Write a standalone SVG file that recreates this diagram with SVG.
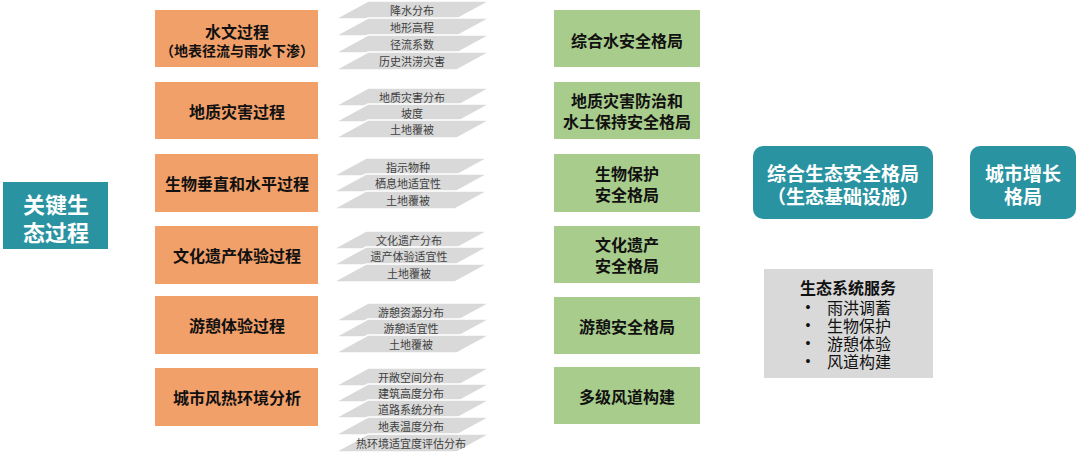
<svg xmlns="http://www.w3.org/2000/svg" xmlns:xlink="http://www.w3.org/1999/xlink" width="1080" height="456" viewBox="0 0 1080 456">
<style>
text{font-family:"Noto Sans CJK SC","Liberation Sans",sans-serif;dominant-baseline:central;text-anchor:middle}
.teal{fill:#2A93A1}
.orange{fill:#F2A06A}
.green{fill:#A8CC8C}
.grey{fill:#D9D9D9}
.layer{fill:#D9D9D9;stroke:#FFFFFF;stroke-width:1.5}
.tw{fill:#FFFFFF;font-weight:700}
.tb{fill:#111111;font-weight:700;font-size:16px}
.tl{fill:#404040;font-size:11px}
.ts{fill:#111111;font-size:16px;text-anchor:start}
.bu{fill:#111111;font-family:"Liberation Sans",sans-serif;font-size:14px;text-anchor:middle}
</style>
<defs>
<path id="lay" d="M33,0 H155 L122,18 H0 Z"/>
</defs>
<rect width="1080" height="456" fill="#FFFFFF"/>

<g id="key-process">
<rect class="teal" x="3" y="182" width="105" height="67"/>
<text class="tw" x="56" y="203" font-size="22">关键生</text>
<text class="tw" x="56" y="231" font-size="22">态过程</text>
</g>

<g id="p1">
<rect class="orange" x="155" y="10" width="163" height="57"/>
<text class="tb" x="237" y="31">水文过程</text>
<text class="tb" x="237" y="50" style="font-size:14px">（地表径流与雨水下渗）</text>
</g>
<g id="p2">
<rect class="orange" x="155" y="82" width="163" height="57"/>
<text class="tb" x="237" y="111">地质灾害过程</text>
</g>
<g id="p3">
<rect class="orange" x="155" y="154" width="163" height="58"/>
<text class="tb" x="237" y="183">生物垂直和水平过程</text>
</g>
<g id="p4">
<rect class="orange" x="155" y="226" width="163" height="58"/>
<text class="tb" x="237" y="255">文化遗产体验过程</text>
</g>
<g id="p5">
<rect class="orange" x="155" y="296" width="163" height="58"/>
<text class="tb" x="237" y="325">游憩体验过程</text>
</g>
<g id="p6">
<rect class="orange" x="155" y="368" width="163" height="58"/>
<text class="tb" x="237" y="397">城市风热环境分析</text>
</g>

<g id="layers1">
<use href="#lay" class="layer" x="335" y="1"/>
<text class="tl" x="412" y="10">降水分布</text>
<use href="#lay" class="layer" x="335" y="18"/>
<text class="tl" x="412" y="27">地形高程</text>
<use href="#lay" class="layer" x="335" y="35"/>
<text class="tl" x="412" y="44">径流系数</text>
<use href="#lay" class="layer" x="335" y="52"/>
<text class="tl" x="412" y="61">历史洪涝灾害</text>
</g>
<g id="layers2">
<use href="#lay" class="layer" x="335" y="88"/>
<text class="tl" x="412" y="97">地质灾害分布</text>
<use href="#lay" class="layer" x="335" y="104"/>
<text class="tl" x="412" y="113">坡度</text>
<use href="#lay" class="layer" x="335" y="120"/>
<text class="tl" x="412" y="129">土地覆被</text>
</g>
<g id="layers3">
<use href="#lay" class="layer" x="333" y="158"/>
<text class="tl" x="408" y="167">指示物种</text>
<use href="#lay" class="layer" x="333" y="174"/>
<text class="tl" x="408" y="183">栖息地适宜性</text>
<use href="#lay" class="layer" x="333" y="191"/>
<text class="tl" x="408" y="200">土地覆被</text>
</g>
<g id="layers4">
<use href="#lay" class="layer" x="333" y="231"/>
<text class="tl" x="409" y="240">文化遗产分布</text>
<use href="#lay" class="layer" x="333" y="247"/>
<text class="tl" x="409" y="256">遗产体验适宜性</text>
<use href="#lay" class="layer" x="333" y="264"/>
<text class="tl" x="409" y="273">土地覆被</text>
</g>
<g id="layers5">
<use href="#lay" class="layer" x="335" y="303"/>
<text class="tl" x="411" y="312">游憩资源分布</text>
<use href="#lay" class="layer" x="335" y="319"/>
<text class="tl" x="411" y="328">游憩适宜性</text>
<use href="#lay" class="layer" x="335" y="335"/>
<text class="tl" x="411" y="344">土地覆被</text>
</g>
<g id="layers6">
<use href="#lay" class="layer" x="335" y="368"/>
<text class="tl" x="411" y="377">开敞空间分布</text>
<use href="#lay" class="layer" x="335" y="384"/>
<text class="tl" x="411" y="393">建筑高度分布</text>
<use href="#lay" class="layer" x="335" y="400"/>
<text class="tl" x="411" y="409">道路系统分布</text>
<use href="#lay" class="layer" x="335" y="417"/>
<text class="tl" x="411" y="426">地表温度分布</text>
<use href="#lay" class="layer" x="335" y="434"/>
<text class="tl" x="411" y="443">热环境适宜度评估分布</text>
</g>

<g id="s1">
<rect class="green" x="554" y="10" width="146" height="57"/>
<text class="tb" x="627" y="40">综合水安全格局</text>
</g>
<g id="s2">
<rect class="green" x="554" y="82" width="146" height="57"/>
<text class="tb" x="627" y="100">地质灾害防治和</text>
<text class="tb" x="627" y="121">水土保持安全格局</text>
</g>
<g id="s3">
<rect class="green" x="554" y="154" width="146" height="58"/>
<text class="tb" x="627" y="173">生物保护</text>
<text class="tb" x="627" y="194">安全格局</text>
</g>
<g id="s4">
<rect class="green" x="554" y="226" width="146" height="57"/>
<text class="tb" x="627" y="244">文化遗产</text>
<text class="tb" x="627" y="265">安全格局</text>
</g>
<g id="s5">
<rect class="green" x="554" y="297" width="146" height="57"/>
<text class="tb" x="627" y="326">游憩安全格局</text>
</g>
<g id="s6">
<rect class="green" x="554" y="367" width="146" height="57"/>
<text class="tb" x="627" y="396">多级风道构建</text>
</g>

<g id="eco-security">
<rect class="teal" x="753" y="146" width="180" height="73" rx="10"/>
<text class="tw" x="843" y="172" font-size="19">综合生态安全格局</text>
<text class="tw" x="843" y="195" font-size="19">（生态基础设施）</text>
</g>
<g id="urban-growth">
<rect class="teal" x="970" y="146" width="106" height="73" rx="10"/>
<text class="tw" x="1023" y="172" font-size="19">城市增长</text>
<text class="tw" x="1023" y="195" font-size="19">格局</text>
</g>

<g id="eco-services">
<rect class="grey" x="764" y="269" width="169" height="109"/>
<text class="tb" x="848" y="287">生态系统服务</text>
<text class="bu" x="808" y="307">•</text>
<text class="ts" x="827" y="307">雨洪调蓄</text>
<text class="bu" x="808" y="325">•</text>
<text class="ts" x="827" y="325">生物保护</text>
<text class="bu" x="808" y="343">•</text>
<text class="ts" x="827" y="343">游憩体验</text>
<text class="bu" x="808" y="361">•</text>
<text class="ts" x="827" y="361">风道构建</text>
</g>
</svg>
